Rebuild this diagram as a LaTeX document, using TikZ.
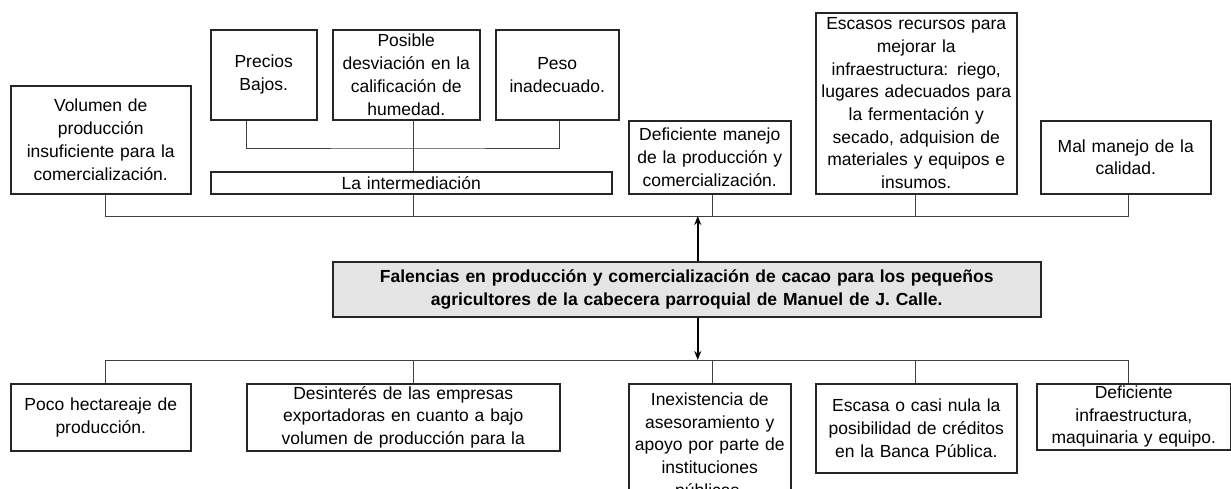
\documentclass[tikz,border=0pt]{standalone}
\usepackage{fontspec}
\setmainfont{Liberation Sans}
\usetikzlibrary{positioning,arrows.meta}

\begin{document}
\begin{tikzpicture}[x=1pt, y=-1pt,
			causebox/.style={draw=black!85, line width=1.5pt, fill=white, align=center, inner xsep=2pt, inner ysep=0pt, anchor=north west, font=\fontsize{17.5}{22.7}\selectfont},
			mainbox/.style={causebox, fill=gray!20, font=\bfseries\fontsize{17.5}{22.7}\selectfont},
			link/.style={draw=black!75, line width=0.9pt},
			bigarrow/.style={draw=black, line width=1.8pt, -{Stealth[length=9pt, width=7pt]}},
		]
		
			\useasboundingbox (0,0) rectangle (1231,488);
		
			%Nodes (causes)
			\node[causebox, text width=102pt, minimum height=90pt]	(precios)	at (210,29)	{Precios\\Bajos.};
			\node[causebox, text width=143pt, minimum height=90pt]	(desviacion)	at (332,29)	{Posible\\desviación en la\\calificación de\\humedad.};
			\node[causebox, text width=119pt, minimum height=90pt]	(peso)	at (495,29)	{Peso\\inadecuado.};
			\node[causebox, text width=176pt, minimum height=108pt]	(volumen)	at (10,85)	{Volumen de\\producción\\insuficiente para la\\comercialización.};
			\node[causebox, text width=397pt, minimum height=22pt]	(intermed)	at (210,171)	{La intermediación};
			\node[causebox, text width=158pt, minimum height=73pt]	(manejo)	at (628,120)	{Deficiente manejo\\de la producción y\\comercialización.};
			\node[causebox, text width=197pt, minimum height=181pt]	(recursos)	at (815,12)	{Escasos recursos para\\mejorar la\\infraestructura: riego,\\lugares adecuados para\\la fermentación y\\secado, adquision de\\materiales y equipos e\\insumos.};
			\node[causebox, text width=166pt, minimum height=73pt]	(calidad)	at (1040,120)	{Mal manejo de la\\calidad.};
		
			%Nodes (problem)
			\node[mainbox, text width=704pt, minimum height=55pt]	(falencias)	at (332,261)	{Falencias en producción y comercialización de cacao para los pequeños\\agricultores de la cabecera parroquial de Manuel de J. Calle.};
		
			%Nodes (effects)
			\node[causebox, text width=176pt, minimum height=67pt]	(hectareas)	at (10,383)	{Poco hectareaje de\\producción.};
			\node[causebox, text width=309pt, minimum height=67pt]	(desinteres)	at (246,383)	{Desinterés de las empresas\\exportadoras en cuanto a bajo\\volumen de producción para la};
			\node[causebox, text width=158pt, minimum height=125pt]	(asesoria)	at (628,383)	{Inexistencia de\\asesoramiento y\\apoyo por parte de\\instituciones\\públicas.};
			\node[causebox, text width=197pt, minimum height=89pt]	(creditos)	at (815,383)	{Escasa o casi nula la\\posibilidad de créditos\\en la Banca Pública.};
			\node[causebox, text width=190pt, minimum height=66pt]	(infra)	at (1036,383)	{Deficiente\\infraestructura,\\maquinaria y equipo.};
		
			%Lines
			\coordinate (jtop) at (413,148);
			\coordinate (ctop) at (0,216);
			\coordinate (cbot) at (0,360);
			\draw[link]	([xshift=-17pt]precios.south) |- (jtop) -| ([xshift=2.5pt]peso.south);
			\draw[link]	([xshift=7.5pt]desviacion.south) -- ([xshift=7.5pt]desviacion.south |- intermed.north);
			\draw[link]	([xshift=5pt]volumen.south) |- ([xshift=3pt]calidad.south |- ctop) -- ([xshift=3pt]calidad.south);
			\foreach \n/\s in {intermed/2.5, manejo/3, recursos/-0.5}
				\draw[link]	([xshift=\s pt]\n.south) -- ([xshift=\s pt]\n.south |- ctop);
			\draw[link]	([xshift=5pt]hectareas.north) |- ([xshift=-5pt]infra.north |- cbot) -- ([xshift=-5pt]infra.north);
			\foreach \n/\s in {desinteres/10.5, asesoria/3, creditos/-0.5}
				\draw[link]	([xshift=\s pt]\n.north) -- ([xshift=\s pt]\n.north |- cbot);
			\draw[bigarrow]	([xshift=11pt]falencias.north) -- ([xshift=11pt]falencias.north |- ctop);
			\draw[bigarrow]	([xshift=11pt]falencias.south) -- ([xshift=11pt]falencias.south |- cbot);
		
		\end{tikzpicture}
\end{document}
